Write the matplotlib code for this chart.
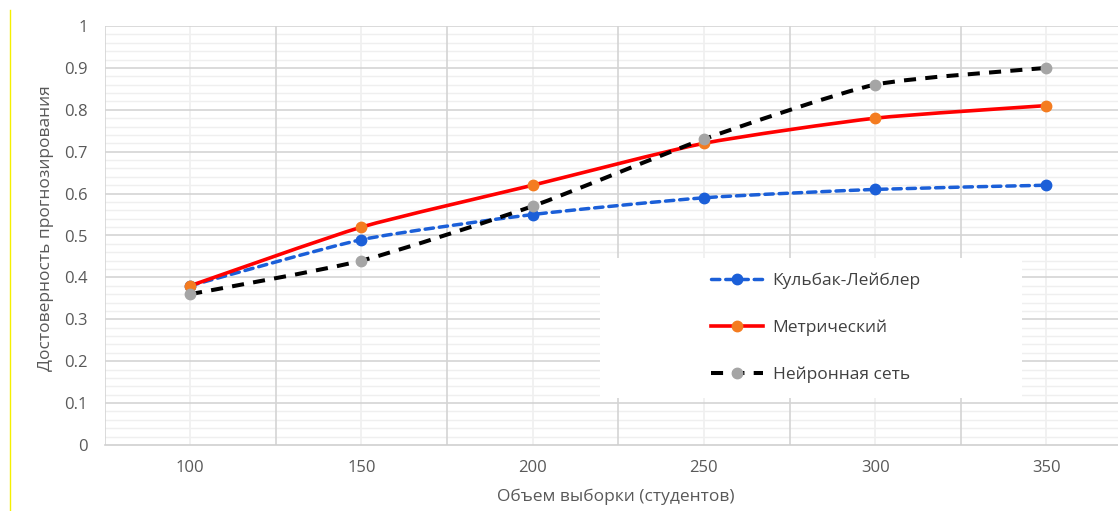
import numpy as np
import matplotlib
matplotlib.use("Agg")
import matplotlib.pyplot as plt
from matplotlib.path import Path
from matplotlib.patches import PathPatch, Rectangle
from matplotlib.lines import Line2D

plt.rcParams['font.family'] = ['Open Sans', 'DejaVu Sans']

# данные графика
sample_sizes = [100, 150, 200, 250, 300, 350]
kl_values = [0.38, 0.49, 0.55, 0.59, 0.61, 0.62]
metric_values = [0.38, 0.52, 0.62, 0.72, 0.78, 0.81]
nn_values = [0.36, 0.44, 0.57, 0.73, 0.86, 0.90]
series_names = ['Кульбак-Лейблер', 'Метрический', 'Нейронная сеть']

x_label = 'Объем выборки (студентов)'
y_label = 'Достоверность прогнозирования'

# размеры области построения в пикселях
AX_L, AX_R, AX_T, AX_B = 104.5, 1132.0, 26.0, 445.0
FIG_W, FIG_H = 1118, 511
SMOOTH = 1.0 / 10  # натяжение сглаживания (меньше -> ближе к ломаной)


def smooth_path(xs, ys):
    """Сглаженная линия как в Excel: кривые Безье через точки."""
    pts = np.column_stack([xs, ys]).astype(float)
    n = len(pts)
    verts = [pts[0]]
    codes = [Path.MOVETO]
    for i in range(n - 1):
        p0 = pts[i - 1] if i > 0 else pts[i]
        p1 = pts[i]
        p2 = pts[i + 1]
        p3 = pts[i + 2] if i + 2 < n else pts[i + 1]
        c1 = p1 + (p2 - p0) * SMOOTH
        c2 = p2 - (p3 - p1) * SMOOTH
        verts += [c1, c2, p2]
        codes += [Path.CURVE4] * 3
    return Path(verts, codes)


fig = plt.figure(figsize=(FIG_W / 100, FIG_H / 100), dpi=100)
# область построения уходит немного за правый край, как на исходной картинке
ax = fig.add_axes([AX_L / FIG_W, (FIG_H - AX_B) / FIG_H,
                   (AX_R - AX_L) / FIG_W, (AX_B - AX_T) / FIG_H])

idx = np.arange(len(sample_sizes))
ax.set_xlim(-0.5, len(sample_sizes) - 0.5)
ax.set_ylim(0, 1)
px_y = AX_B - AX_T

# сетка
ax.set_xticks(idx)
ax.set_xticklabels([str(s) for s in sample_sizes])
ax.set_yticks(np.round(np.arange(0, 1.01, 0.1), 1))
ax.set_yticklabels(['0'] + [f'{v:.1f}' for v in np.arange(0.1, 0.95, 0.1)] + ['1'])

for v in np.arange(0.02, 1.0, 0.02):
    if abs(v * 10 - round(v * 10)) > 1e-6:
        ax.axhline(v, color='#efefef', lw=1.0, zorder=0)
for v in np.arange(0.1, 1.01, 0.1):
    ax.axhline(v, color='#d4d4d4', lw=1.2, zorder=0.5)
for v in idx:
    ax.axvline(v, color='#efefef', lw=1.2, zorder=0.3)
for v in np.arange(-0.5, len(sample_sizes), 1.0):
    ax.axvline(v, color='#d4d4d4', lw=1.2, zorder=0.6)

ax.tick_params(which='both', length=0)
ax.tick_params(axis='y', pad=12, labelsize=12, labelcolor='#595959')
ax.tick_params(axis='x', pad=11, labelsize=12, labelcolor='#595959')
for s in ['top', 'right', 'left']:
    ax.spines[s].set_visible(False)
ax.spines['bottom'].set_color('#d0d0d0')
ax.spines['bottom'].set_linewidth(1.2)

# белый фон под легендой
ax.add_patch(Rectangle((600, FIG_H - 398), 422, 140, transform=None,
                       facecolor='white', edgecolor='none', zorder=1))

styles = [
    dict(color='#1b5fd8', mfc='#1b5fd8', lw=2.5, ls=(0, (2.4, 1.7)), cap='round'),
    dict(color='#ff0000', mfc='#f47c20', lw=2.6, ls='-', cap='round'),
    dict(color='#000000', mfc='#a5a5a5', lw=2.9, ls=(0, (3.0, 2.3)), cap='butt'),
]
all_values = [kl_values, metric_values, nn_values]

handles = []
for vals, st, name in zip(all_values, styles, series_names):
    patch = PathPatch(smooth_path(idx, vals), facecolor='none',
                      edgecolor=st['color'], lw=st['lw'], linestyle=st['ls'],
                      capstyle=st['cap'], zorder=3)
    ax.add_patch(patch)
    ax.plot(idx, vals, ls='none', marker='o', ms=7.5, mfc=st['mfc'], mec=st['mfc'], zorder=4)
    handles.append(Line2D([], [], color=st['color'], lw=st['lw'], ls=st['ls'],
                          dash_capstyle=st['cap'], marker='o', ms=7.5,
                          mfc=st['mfc'], mec=st['mfc']))

fig.legend(handles, series_names, loc='center left', frameon=False,
           bbox_to_anchor=(711 / FIG_W, 1 - 328 / FIG_H), borderpad=0, borderaxespad=0,
           handlelength=3.0, handletextpad=0.55, labelspacing=1.75, fontsize=12.5,
           labelcolor='#404040')

ax.set_xlabel(x_label, fontsize=12.5, color='#595959')
ax.xaxis.set_label_coords((616 - AX_L) / (AX_R - AX_L), -(489 - AX_B) / px_y)
ax.set_ylabel(y_label, fontsize=12.5, color='#595959')
ax.yaxis.set_label_coords(-(AX_L - 54) / (AX_R - AX_L), (AX_B - 228) / px_y)

# тонкая жёлтая линия слева
fig.add_artist(Line2D([9.5 / FIG_W, 9.5 / FIG_W], [0, 1 - 10 / FIG_H],
                      color='#f5f000', lw=1.0))

fig.savefig('out.png', dpi=100)
